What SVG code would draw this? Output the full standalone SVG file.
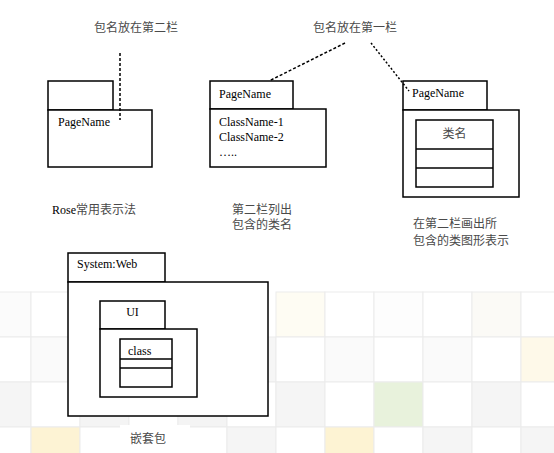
<svg xmlns="http://www.w3.org/2000/svg" width="554" height="453" viewBox="0 0 554 453">
<style>
.box{fill:#fff;stroke:#000;stroke-width:1.5}
.lat{font-family:"Liberation Serif","Noto Sans CJK SC",serif;font-size:12px;fill:#000}
.cjk{font-family:"Liberation Serif","Noto Sans CJK SC",serif;font-size:12px;fill:#4a4a4a}
.dash{fill:none;stroke:#000;stroke-width:1.5;stroke-dasharray:3 2}
.cell{stroke:#ebebeb;stroke-width:1}
</style>
<rect width="554" height="453" fill="#fff"/>
<g id="background-grid">
<rect class="cell" x="-18" y="292" width="49" height="45" fill="#fbfbfb"/>
<rect class="cell" x="31" y="292" width="49" height="45" fill="#fff"/>
<rect class="cell" x="276" y="292" width="49" height="45" fill="#fefcf3"/>
<rect class="cell" x="325" y="292" width="49" height="45" fill="#fff"/>
<rect class="cell" x="374" y="292" width="49" height="45" fill="#fdfdfd"/>
<rect class="cell" x="423" y="292" width="49" height="45" fill="#fff"/>
<rect class="cell" x="472" y="292" width="49" height="45" fill="#fbfaf6"/>
<rect class="cell" x="521" y="292" width="49" height="45" fill="#fff"/>
<rect class="cell" x="-18" y="337" width="49" height="45" fill="#fff"/>
<rect class="cell" x="31" y="337" width="49" height="45" fill="#fafafa"/>
<rect class="cell" x="227" y="337" width="49" height="45" fill="#f6f6f6"/>
<rect class="cell" x="276" y="337" width="49" height="45" fill="#fff"/>
<rect class="cell" x="325" y="337" width="49" height="45" fill="#fafafa"/>
<rect class="cell" x="374" y="337" width="49" height="45" fill="#fff"/>
<rect class="cell" x="423" y="337" width="49" height="45" fill="#fafafa"/>
<rect class="cell" x="472" y="337" width="49" height="45" fill="#fff"/>
<rect class="cell" x="521" y="337" width="49" height="45" fill="#fef9e9"/>
<rect class="cell" x="-18" y="382" width="49" height="45" fill="#f5f5f5"/>
<rect class="cell" x="31" y="382" width="49" height="45" fill="#fff"/>
<rect class="cell" x="80" y="382" width="49" height="45" fill="#f4f4f4"/>
<rect class="cell" x="129" y="382" width="49" height="45" fill="#fff"/>
<rect class="cell" x="178" y="382" width="49" height="45" fill="#f4f4f4"/>
<rect class="cell" x="227" y="382" width="49" height="45" fill="#fff"/>
<rect class="cell" x="276" y="382" width="49" height="45" fill="#f5f5f5"/>
<rect class="cell" x="325" y="382" width="49" height="45" fill="#fff"/>
<rect class="cell" x="374" y="382" width="49" height="45" fill="#e8f2dc"/>
<rect class="cell" x="423" y="382" width="49" height="45" fill="#fff"/>
<rect class="cell" x="472" y="382" width="49" height="45" fill="#f5f5f5"/>
<rect class="cell" x="521" y="382" width="49" height="45" fill="#fff"/>
<rect class="cell" x="-18" y="427" width="49" height="45" fill="#fff"/>
<rect class="cell" x="31" y="427" width="49" height="45" fill="#fdf3d4"/>
<rect class="cell" x="80" y="427" width="49" height="45" fill="#fff"/>
<rect class="cell" x="129" y="427" width="49" height="45" fill="#fff"/>
<rect class="cell" x="178" y="427" width="49" height="45" fill="#fff"/>
<rect class="cell" x="227" y="427" width="49" height="45" fill="#f5f5f5"/>
<rect class="cell" x="276" y="427" width="49" height="45" fill="#fff"/>
<rect class="cell" x="325" y="427" width="49" height="45" fill="#fdf3d3"/>
<rect class="cell" x="374" y="427" width="49" height="45" fill="#fff"/>
<rect class="cell" x="423" y="427" width="49" height="45" fill="#f5f5f5"/>
<rect class="cell" x="472" y="427" width="49" height="45" fill="#fff"/>
<rect class="cell" x="521" y="427" width="49" height="45" fill="#f5f5f5"/>
</g>
<g id="pkg-rose">
<rect class="box" x="48" y="81" width="65" height="29"/>
<rect class="box" x="48" y="110" width="104" height="57"/>
<text class="lat" x="58" y="126">PageName</text>
</g>
<g id="pkg-list">
<rect class="box" x="210" y="81" width="83" height="28"/>
<rect class="box" x="210" y="109" width="116" height="58"/>
<text class="lat" x="219" y="98">PageName</text>
<text class="lat" x="219" y="126">ClassName-1</text>
<text class="lat" x="219" y="141">ClassName-2</text>
<text class="lat" x="219" y="156">…..</text>
</g>
<g id="pkg-graphic">
<rect class="box" x="403" y="81" width="84" height="29"/>
<rect class="box" x="403" y="110" width="116" height="87"/>
<text class="lat" x="412" y="97">PageName</text>
<rect class="box" x="416" y="120" width="77" height="67"/>
<line class="box" x1="416" y1="149" x2="493" y2="149"/>
<line class="box" x1="416" y1="168" x2="493" y2="168"/>
<text class="cjk" x="454.5" y="138" text-anchor="middle">类名</text>
</g>
<g id="pkg-nested">
<rect class="box" x="68" y="253" width="97" height="29"/>
<rect class="box" x="68" y="282" width="200" height="134"/>
<text class="lat" x="77" y="268">System:Web</text>
<rect class="box" x="100" y="301" width="65" height="28"/>
<rect class="box" x="100" y="329" width="97" height="68"/>
<text class="lat" x="132.5" y="316" text-anchor="middle">UI</text>
<rect class="box" x="120" y="339" width="52" height="48"/>
<line class="box" x1="120" y1="359" x2="172" y2="359"/>
<line class="box" x1="120" y1="368" x2="172" y2="368"/>
<text class="lat" x="128" y="355">class</text>
</g>
<g id="connectors">
<line class="dash" x1="120" y1="53" x2="120" y2="120"/>
<line class="dash" x1="345" y1="43" x2="269" y2="81"/>
<line class="dash" x1="371" y1="43" x2="409" y2="91" style="stroke-dasharray:2 2"/>
</g>
<g id="labels">
<text class="cjk" x="94" y="32">包名放在第二栏</text>
<text class="cjk" x="313" y="32">包名放在第一栏</text>
<text class="lat" x="52" y="214">Rose<tspan class="cjk">常用表示法</tspan></text>
<text class="cjk" x="232" y="214">第二栏列出</text>
<text class="cjk" x="232" y="229">包含的类名</text>
<text class="cjk" x="413" y="228">在第二栏画出所</text>
<text class="cjk" x="413" y="245">包含的类图形表示</text>
<rect x="120" y="425" width="70" height="28" fill="#fff"/>
<text class="cjk" x="130" y="443">嵌套包</text>
</g>
</svg>
